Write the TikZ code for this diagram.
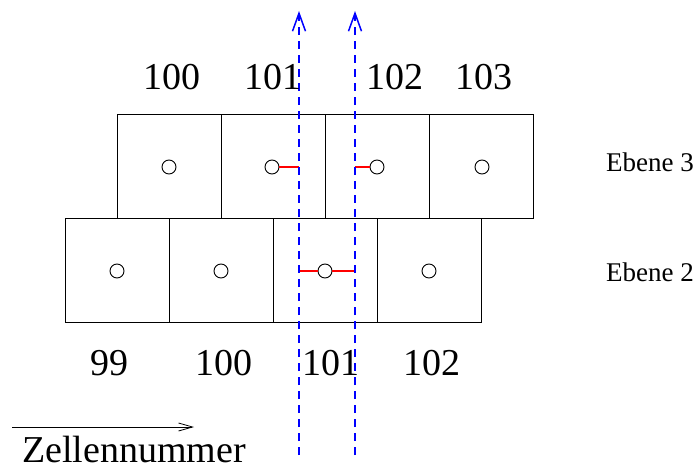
\documentclass[tikz,border=0pt]{standalone}
\usepackage{fontspec}
\setmainfont{LiberationSerif}[Extension=.ttf, UprightFont=*-Regular]
\usetikzlibrary{arrows.meta}
\begin{document}
\begin{tikzpicture}[x=1pt,y=-1pt,
  cell/.style={draw, line width=0.9pt, minimum width=104pt, minimum height=104pt, inner sep=0pt, outer sep=0pt},
  dot/.style={circle, draw, fill=white, line width=0.9pt, minimum size=14pt, inner sep=0pt},
  num/.style={font=\fontsize{38}{38}\selectfont, anchor=base, inner sep=0pt},
  lvl/.style={font=\fontsize{27}{27}\selectfont, anchor=base west, inner sep=0pt},
  flow/.style={blue, line width=2pt, dash pattern=on 8pt off 6pt, -{Straight Barb[length=18pt,width=13pt,line width=1.5pt]}},
  link/.style={red, line width=1.6pt},
  axis/.style={line width=0.8pt, -{Straight Barb[length=14pt,width=8pt,line width=0.8pt]}}]
\useasboundingbox (0,0) rectangle (694,468);
% top row (Ebene 3)
\node[cell] (t1) at (169,166.5) {};
\node[cell] (t2) at (273,166.5) {};
\node[cell] (t3) at (377,166.5) {};
\node[cell] (t4) at (481,166.5) {};
% bottom row (Ebene 2)
\node[cell] (b1) at (117,270.5) {};
\node[cell] (b2) at (221,270.5) {};
\node[cell] (b3) at (325,270.5) {};
\node[cell] (b4) at (429,270.5) {};
% circles
\node[dot] (ct1) at (169,167) {};
\node[dot] (ct2) at (272,167) {};
\node[dot] (ct3) at (377,167) {};
\node[dot] (ct4) at (482,167) {};
\node[dot] (cb1) at (117,271) {};
\node[dot] (cb2) at (221,271) {};
\node[dot] (cb3) at (325,271) {};
\node[dot] (cb4) at (429,271) {};
% flow lines
\coordinate (f1s) at (299,455);
\coordinate (f1e) at (299,11);
\coordinate (f2s) at (355,455);
\coordinate (f2e) at (355,11);
\coordinate (f1t) at (299,167);
\coordinate (f2t) at (355,167);
\coordinate (f1b) at (299,271);
\coordinate (f2b) at (355,271);
\draw[link] (ct2.east) -- (f1t);
\draw[link] (f2t) -- (ct3.west);
\draw[link] (f1b) -- (cb3.west);
\draw[link] (cb3.east) -- (f2b);
\draw[flow] (f1s) -- (f1e);
\draw[flow] (f2s) -- (f2e);
% numbers
\node[num] (n100t) at (172,90) {100};
\node[num] (n101t) at (273,90) {101};
\node[num] (n102t) at (395,90) {102};
\node[num] (n103t) at (484,90) {103};
\node[num] (n99b) at (109,375) {99};
\node[num] (n100b) at (224,375) {100};
\node[num] (n101b) at (331,375) {101};
\node[num] (n102b) at (432,375) {102};
% level labels
\node[lvl] (e3) at (606,172) {Ebene 3};
\node[lvl] (e2) at (606,281) {Ebene 2};
% axis
\coordinate (a1) at (12,427);
\coordinate (a2) at (194,427);
\draw[axis] (a1) -- (a2);
\node[font=\fontsize{38}{38}\selectfont, anchor=base west, inner sep=0pt] (zn) at (22,462) {Zellennummer};
\end{tikzpicture}
\end{document}
